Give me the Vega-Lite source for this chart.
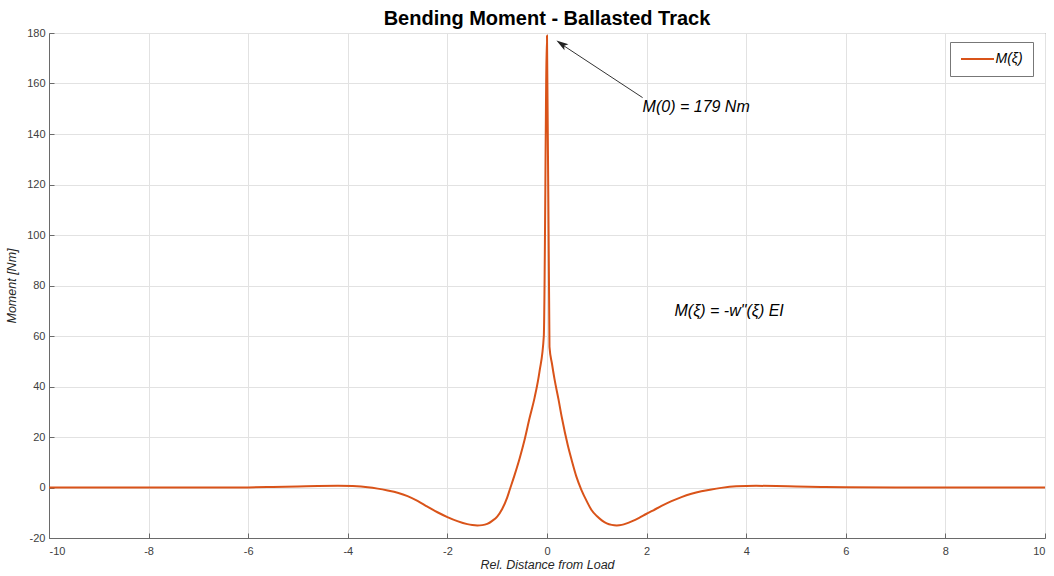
{
  "$schema": "https://vega.github.io/schema/vega-lite/v6.json",
  "autosize": {"type": "none"},
  "width": 996,
  "height": 505,
  "padding": {"left": 49, "top": 33, "right": 9, "bottom": 38},
  "background": "white",
  "config": {
    "font": "Liberation Sans",
    "view": {"stroke": "#6a6a6a", "strokeWidth": 1},
    "axis": {
      "domainColor": "#6a6a6a",
      "tickColor": "#6a6a6a",
      "gridColor": "#e2e2e2",
      "gridWidth": 1,
      "labelColor": "#404040",
      "labelFont": "Liberation Sans",
      "labelFontSize": 11,
      "titleFont": "Liberation Sans",
      "titleFontStyle": "italic",
      "titleFontWeight": "normal",
      "titleFontSize": 12.5,
      "titleColor": "#262626",
      "tickSize": -5
    }
  },
  "title": {
    "text": "Bending Moment - Ballasted Track",
    "font": "Liberation Sans",
    "fontSize": 20,
    "fontWeight": "bold",
    "color": "#000000",
    "anchor": "middle",
    "offset": -2
  },
  "encoding": {
    "x": {
      "field": "x", "type": "quantitative",
      "scale": {"domain": [-10, 10], "nice": false, "zero": false},
      "axis": {"values": [-10, -8, -6, -4, -2, 0, 2, 4, 6, 8, 10], "labelExpr": "datum.value < 0 ? '-' + abs(datum.value) : '' + datum.value", "title": "Rel. Distance from Load", "labelPadding": 12, "titlePadding": 2, "grid": true}
    },
    "y": {
      "field": "m", "type": "quantitative",
      "scale": {"domain": [-20, 180], "nice": false, "zero": false},
      "axis": {"values": [-20, 0, 20, 40, 60, 80, 100, 120, 140, 160, 180], "labelExpr": "datum.value < 0 ? '-' + abs(datum.value) : '' + datum.value", "title": "Moment [Nm]", "labelPadding": 9, "titlePadding": 8, "grid": true}
    }
  },
  "layer": [
    {
      "data": {
        "values": [
          {"x": -10, "m": 0, "series": "M(ξ)"},
          {"x": -9, "m": 0, "series": "M(ξ)"},
          {"x": -8, "m": 0, "series": "M(ξ)"},
          {"x": -7, "m": -0.03, "series": "M(ξ)"},
          {"x": -6, "m": 0.04, "series": "M(ξ)"},
          {"x": -5.5, "m": 0.2, "series": "M(ξ)"},
          {"x": -5, "m": 0.4, "series": "M(ξ)"},
          {"x": -4.6, "m": 0.6, "series": "M(ξ)"},
          {"x": -4.2, "m": 0.68, "series": "M(ξ)"},
          {"x": -3.9, "m": 0.55, "series": "M(ξ)"},
          {"x": -3.6, "m": 0.12, "series": "M(ξ)"},
          {"x": -3.4, "m": -0.45, "series": "M(ξ)"},
          {"x": -3.2, "m": -1.2, "series": "M(ξ)"},
          {"x": -3.0, "m": -2.1, "series": "M(ξ)"},
          {"x": -2.8, "m": -3.4, "series": "M(ξ)"},
          {"x": -2.6, "m": -5.3, "series": "M(ξ)"},
          {"x": -2.4, "m": -7.6, "series": "M(ξ)"},
          {"x": -2.2, "m": -9.8, "series": "M(ξ)"},
          {"x": -2.0, "m": -11.7, "series": "M(ξ)"},
          {"x": -1.8, "m": -13.3, "series": "M(ξ)"},
          {"x": -1.6, "m": -14.5, "series": "M(ξ)"},
          {"x": -1.5, "m": -14.85, "series": "M(ξ)"},
          {"x": -1.4, "m": -15.0, "series": "M(ξ)"},
          {"x": -1.3, "m": -14.9, "series": "M(ξ)"},
          {"x": -1.2, "m": -14.4, "series": "M(ξ)"},
          {"x": -1.1, "m": -13.2, "series": "M(ξ)"},
          {"x": -1.0, "m": -11.5, "series": "M(ξ)"},
          {"x": -0.9, "m": -8.5, "series": "M(ξ)"},
          {"x": -0.8, "m": -4.0, "series": "M(ξ)"},
          {"x": -0.75, "m": -1.0, "series": "M(ξ)"},
          {"x": -0.65, "m": 5.0, "series": "M(ξ)"},
          {"x": -0.55, "m": 11.5, "series": "M(ξ)"},
          {"x": -0.45, "m": 18.9, "series": "M(ξ)"},
          {"x": -0.35, "m": 27.5, "series": "M(ξ)"},
          {"x": -0.25, "m": 35.5, "series": "M(ξ)"},
          {"x": -0.15, "m": 46, "series": "M(ξ)"},
          {"x": -0.064, "m": 60, "series": "M(ξ)"},
          {"x": 0, "m": 179, "series": "M(ξ)"},
          {"x": 0.05, "m": 55.7, "series": "M(ξ)"},
          {"x": 0.1, "m": 49, "series": "M(ξ)"},
          {"x": 0.15, "m": 43, "series": "M(ξ)"},
          {"x": 0.23, "m": 35, "series": "M(ξ)"},
          {"x": 0.3, "m": 27.5, "series": "M(ξ)"},
          {"x": 0.42, "m": 16.5, "series": "M(ξ)"},
          {"x": 0.5, "m": 10.5, "series": "M(ξ)"},
          {"x": 0.59, "m": 4.3, "series": "M(ξ)"},
          {"x": 0.69, "m": -0.9, "series": "M(ξ)"},
          {"x": 0.8, "m": -5.5, "series": "M(ξ)"},
          {"x": 0.89, "m": -8.8, "series": "M(ξ)"},
          {"x": 1.0, "m": -11.3, "series": "M(ξ)"},
          {"x": 1.1, "m": -13.0, "series": "M(ξ)"},
          {"x": 1.2, "m": -14.2, "series": "M(ξ)"},
          {"x": 1.3, "m": -14.8, "series": "M(ξ)"},
          {"x": 1.4, "m": -15.0, "series": "M(ξ)"},
          {"x": 1.5, "m": -14.8, "series": "M(ξ)"},
          {"x": 1.6, "m": -14.2, "series": "M(ξ)"},
          {"x": 1.7, "m": -13.4, "series": "M(ξ)"},
          {"x": 1.85, "m": -12.0, "series": "M(ξ)"},
          {"x": 2.0, "m": -10.4, "series": "M(ξ)"},
          {"x": 2.1, "m": -9.4, "series": "M(ξ)"},
          {"x": 2.3, "m": -7.3, "series": "M(ξ)"},
          {"x": 2.5, "m": -5.4, "series": "M(ξ)"},
          {"x": 2.7, "m": -3.8, "series": "M(ξ)"},
          {"x": 2.9, "m": -2.5, "series": "M(ξ)"},
          {"x": 3.1, "m": -1.5, "series": "M(ξ)"},
          {"x": 3.3, "m": -0.75, "series": "M(ξ)"},
          {"x": 3.5, "m": -0.15, "series": "M(ξ)"},
          {"x": 3.8, "m": 0.45, "series": "M(ξ)"},
          {"x": 4.2, "m": 0.67, "series": "M(ξ)"},
          {"x": 4.6, "m": 0.6, "series": "M(ξ)"},
          {"x": 5, "m": 0.4, "series": "M(ξ)"},
          {"x": 5.5, "m": 0.2, "series": "M(ξ)"},
          {"x": 6, "m": 0.05, "series": "M(ξ)"},
          {"x": 7, "m": -0.03, "series": "M(ξ)"},
          {"x": 8, "m": 0, "series": "M(ξ)"},
          {"x": 9, "m": 0, "series": "M(ξ)"},
          {"x": 10, "m": 0, "series": "M(ξ)"}
        ]
      },
      "mark": {"type": "line", "strokeWidth": 2, "strokeJoin": "round", "interpolate": "monotone"},
      "encoding": {
        "color": {
          "field": "series", "type": "nominal",
          "scale": {"domain": ["M(ξ)"], "range": ["#D95319"]},
          "legend": {
            "title": null,
            "orient": "none",
            "legendX": 901,
            "legendY": 9,
            "symbolType": "M-3.3,0L3.3,0",
            "symbolSize": 100,
            "symbolOffset": 10.5,
            "symbolStrokeWidth": 2,
            "labelFontSize": 14,
            "labelFontStyle": "italic",
            "labelColor": "#000000",
            "labelFont": "Liberation Sans",
            "labelOffset": 11,
            "padding": 10,
            "strokeColor": "#777777",
            "fillColor": "#ffffff"
          }
        }
      }
    },
    {
      "data": {"values": [{"x": 1.92, "m": 154.4, "xe": 0.24, "me": 176.2}]},
      "mark": {"type": "rule", "color": "#333333", "strokeWidth": 1},
      "encoding": {
        "x2": {"field": "xe"},
        "y2": {"field": "me"}
      }
    },
    {
      "data": {"values": [{"x": 0.29, "m": 175.7}]},
      "mark": {"type": "point", "shape": "M0,-1 L0.6,1 L0,0.55 L-0.6,1 Z", "filled": true, "color": "#222222", "size": 144, "angle": 303.5, "opacity": 1},
      "encoding": {}
    },
    {
      "data": {"values": [
        {"x": 1.92, "m": 150.5, "label": "M(0) = 179 Nm"},
        {"x": 2.56, "m": 70, "label": "M(ξ) = -w\"(ξ) EI"}
      ]},
      "mark": {"type": "text", "align": "left", "baseline": "middle", "fontSize": 16, "fontStyle": "italic", "font": "Liberation Sans", "color": "#000000"},
      "encoding": {
        "text": {"field": "label"}
      }
    }
  ]
}
